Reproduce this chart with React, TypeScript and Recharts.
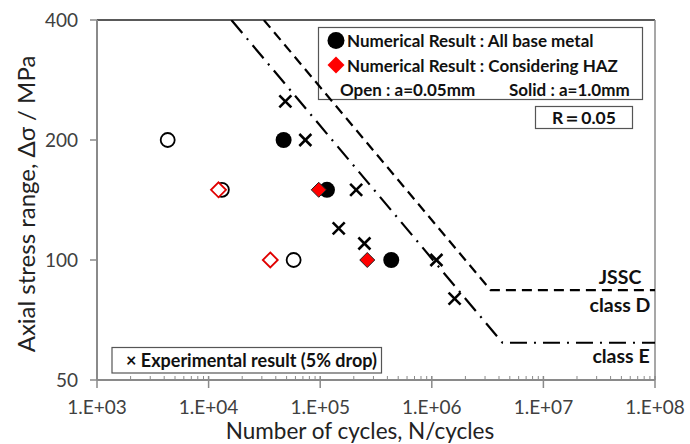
import React from 'react';
import { ComposedChart, Scatter, XAxis, YAxis, ReferenceLine, Customized } from 'recharts';

// JSSC design curves (stress range vs cycles)
const classD = [
  { x: 31250, y: 400 },
  { x: 3370000, y: 84 },
  { x: 100000000, y: 84 },
];
const classE = [
  { x: 16000, y: 400 },
  { x: 4300000, y: 62 },
  { x: 100000000, y: 62 },
];

// Numerical result: all base metal
const baseOpen = [
  { x: 4300, y: 200 },
  { x: 13150, y: 150 },
  { x: 57800, y: 100 },
];
const baseSolid = [
  { x: 47000, y: 200 },
  { x: 115000, y: 150 },
  { x: 433000, y: 100 },
];
// Numerical result: considering HAZ
const hazOpen = [
  { x: 12270, y: 150 },
  { x: 35700, y: 100 },
];
const hazSolid = [
  { x: 97000, y: 150 },
  { x: 264000, y: 100 },
];
// Experimental result (5% drop)
const experimental = [
  { x: 48700, y: 250 },
  { x: 73600, y: 200 },
  { x: 210000, y: 150 },
  { x: 146500, y: 120 },
  { x: 249000, y: 110 },
  { x: 1100000, y: 100 },
  { x: 1600000, y: 80 },
];

const xMajorTicks = [1e3, 1e4, 1e5, 1e6, 1e7, 1e8];
const xMinorMultipliers = [2, 3, 4, 5, 6, 7, 8, 9];
const xAllTicks = [
  ...xMajorTicks,
  ...xMajorTicks.slice(0, -1).flatMap((d) => xMinorMultipliers.map((m) => m * d)),
];
const yTicks = [50, 100, 200, 400];

const FONT = 'Lato, "Open Sans", sans-serif';
const AXIS_GREY = '#8a8a8a';

const fmtX = (v: number) => {
  const e = Math.round(Math.log10(v));
  return `1.E+${String(e).padStart(2, '0')}`;
};

const XTick = (props: any) => {
  const { x, y, payload } = props;
  const v = payload.value;
  const isMajor = xMajorTicks.some((t) => Math.abs(t - v) < 1e-6 * t);
  if (!isMajor) {
    return <line x1={x} x2={x} y1={y} y2={y - 4} stroke={AXIS_GREY} strokeWidth={1} />;
  }
  return (
    <g>
      <line x1={x} x2={x} y1={y - 4} y2={y + 8} stroke={AXIS_GREY} strokeWidth={1.5} />
      <text x={x} y={y + 33.5} textAnchor="middle" fontFamily={FONT} fontSize={19} fill="#404040">
        {fmtX(v)}
      </text>
    </g>
  );
};

const OpenCircle = (p: any) => (
  <circle cx={p.cx} cy={p.cy} r={7} fill="#fff" stroke="#000" strokeWidth={1.8} />
);
const SolidCircle = (p: any) => <circle cx={p.cx} cy={p.cy} r={8} fill="#000" />;
const diamondPath = (cx: number, cy: number, h: number) =>
  `M${cx},${cy - h}L${cx + h},${cy}L${cx},${cy + h}L${cx - h},${cy}Z`;
const OpenDiamond = (p: any) => (
  <path d={diamondPath(p.cx, p.cy, 7.5)} fill="#fff" stroke="#e00000" strokeWidth={1.8} />
);
const SolidDiamond = (p: any) => (
  <path d={diamondPath(p.cx, p.cy, 7.5)} fill="#ff0000" stroke="#222" strokeWidth={1} />
);
const Cross = (p: any) => (
  <g stroke="#000" strokeWidth={2.6}>
    <line x1={p.cx - 6} y1={p.cy - 6} x2={p.cx + 6} y2={p.cy + 6} />
    <line x1={p.cx - 6} y1={p.cy + 6} x2={p.cx + 6} y2={p.cy - 6} />
  </g>
);
const NoShape = () => <g />;

const Overlay = () => (
  <g fontFamily={FONT}>
    {/* numerical legend */}
    <rect x={318.5} y={27.5} width={324} height={72} fill="#fff" stroke="#555" strokeWidth={1.2} />
    <circle cx={336} cy={40.5} r={8.5} fill="#000" />
    <text x={347} y={46.5} fontSize={17} fontWeight={700} fill="#111">
      Numerical Result : All base metal
    </text>
    <path d={diamondPath(336, 65, 8.5)} fill="#ff0000" />
    <text x={347} y={71.5} fontSize={17} fontWeight={700} fill="#111">
      Numerical Result : Considering HAZ
    </text>
    <text x={340} y={96} fontSize={17} fontWeight={700} fill="#111">
      Open : a=0.05mm
    </text>
    <text x={509} y={96} fontSize={17} fontWeight={700} fill="#111">
      Solid : a=1.0mm
    </text>
    {/* R box */}
    <rect x={535.5} y={106.5} width={97} height={22} fill="#fff" stroke="#555" strokeWidth={1.2} />
    <text x={584} y={124} fontSize={17.5} fontWeight={700} fill="#111" textAnchor="middle">
      R＝0.05
    </text>
    {/* experimental legend */}
    <rect x={112} y={347.5} width={269.5} height={25.5} fill="#fff" stroke="#555" strokeWidth={1.2} />
    <text x={126} y={367} fontSize={18} fontWeight={700} fill="#111">
      × Experimental result (5% drop)
    </text>
    {/* curve labels */}
    <text x={620} y={283.5} fontSize={19.5} fontWeight={700} fill="#111" textAnchor="middle">
      JSSC
    </text>
    <text x={620} y={311.5} fontSize={19.5} fontWeight={700} fill="#111" textAnchor="middle">
      class D
    </text>
    <text x={621} y={363} fontSize={19.5} fontWeight={700} fill="#111" textAnchor="middle">
      class E
    </text>
    {/* axis titles */}
    <text x={360} y={438.5} fontSize={22.5} fill="#222" textAnchor="middle">
      Number of cycles, N/cycles
    </text>
    <text
      x={35}
      y={204}
      fontSize={24}
      fill="#222"
      textAnchor="middle"
      transform="rotate(-90, 35, 204)"
    >
      Axial stress range, Δσ / MPa
    </text>
  </g>
);

export default function App() {
  return (
    <div style={{ width: 690, height: 444, background: '#fff' }}>
      <style>{`body{margin:0;background:#fff}`}</style>
      <ComposedChart
        width={690}
        height={444}
        margin={{ top: 20, right: 35, bottom: 0, left: 0 }}
      >
        <XAxis
          dataKey="x"
          type="number"
          scale="log"
          domain={[1e3, 1e8]}
          allowDataOverflow
          ticks={xAllTicks}
          interval={0}
          tickSize={0}
          tickMargin={0}
          tickLine={false}
          tick={<XTick />}
          height={64}
          axisLine={{ stroke: AXIS_GREY, strokeWidth: 2 }}
        />
        <YAxis
          dataKey="y"
          type="number"
          scale="log"
          domain={[50, 400]}
          allowDataOverflow
          ticks={yTicks}
          interval={0}
          width={97}
          tickSize={7}
          tickMargin={12}
          tickLine={{ stroke: AXIS_GREY, strokeWidth: 1.5 }}
          axisLine={{ stroke: AXIS_GREY, strokeWidth: 2 }}
          tick={{ fontFamily: FONT, fontSize: 19, fill: '#404040' }}
        />
        <ReferenceLine y={400} stroke="#222" strokeWidth={1.3} />
        <ReferenceLine x={1e8} stroke={AXIS_GREY} strokeWidth={1.5} />
        <Scatter
          data={classD}
          line={{ stroke: '#000', strokeWidth: 2.2, strokeDasharray: '10 6' }}
          shape={NoShape}
          isAnimationActive={false}
        />
        <Scatter
          data={classE}
          line={{ stroke: '#000', strokeWidth: 2.2, strokeDasharray: '17 7 2 7' }}
          shape={NoShape}
          isAnimationActive={false}
        />
        <Scatter data={baseOpen} shape={OpenCircle} isAnimationActive={false} />
        <Scatter data={baseSolid} shape={SolidCircle} isAnimationActive={false} />
        <Scatter data={hazOpen} shape={OpenDiamond} isAnimationActive={false} />
        <Scatter data={hazSolid} shape={SolidDiamond} isAnimationActive={false} />
        <Scatter data={experimental} shape={Cross} isAnimationActive={false} />
        <Customized component={Overlay} />
      </ComposedChart>
    </div>
  );
}
